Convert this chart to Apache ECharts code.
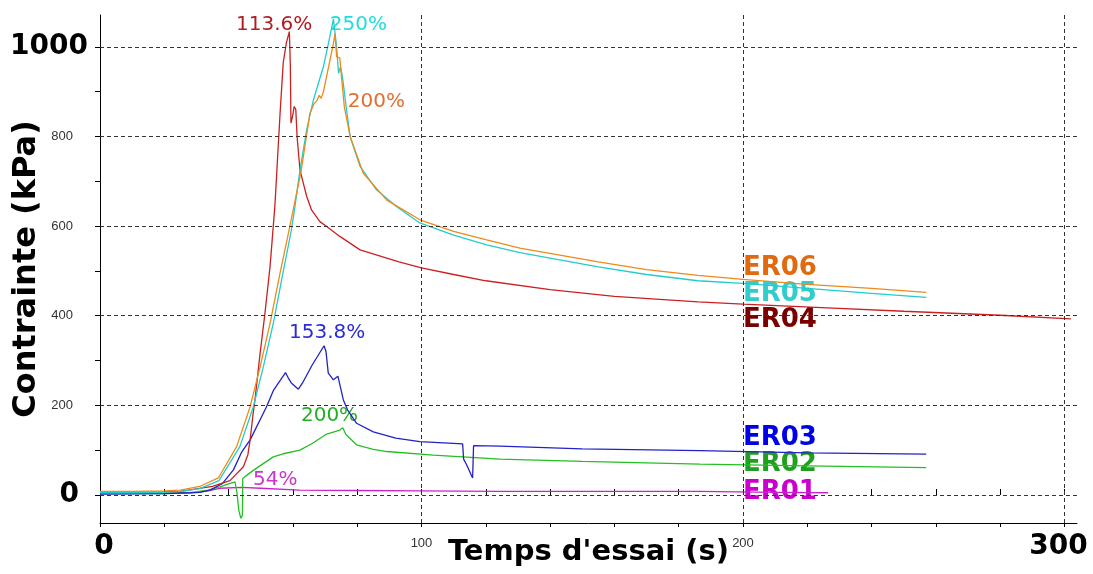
<!DOCTYPE html>
<html><head><meta charset="utf-8">
<script src="https://cdn.jsdelivr.net/npm/echarts@6/dist/echarts.min.js"></script>
<style>html,body{margin:0;padding:0;background:#fff}#c{width:1093px;height:574px}</style>
</head><body><div id="c"></div>
<script>
// ---- axes ----
const xTicks = [0,20,40,60,80,100,120,140,160,180,200,220,240,260,280,300];
const xLabels = [0,100,200,300];
const yTicks = [0,100,200,300,400,500,600,700,800,900,1000];
const yLabels = [0,200,400,600,800,1000];

// ---- series data: [time (s), stress (kPa)] ----
const er01 = [[0,4],[20,4],[30,6],[34,10],[37.3,15],[44,17],[50,15],[62,11],[80,10],[100,9],[124,8],[150,8],[186.6,8],[210,6],[226.5,5]];
const er02 = [[0,3],[20,3],[28,5],[33,10],[37.3,18],[40,25],[42,29],[42.6,5],[43.2,-35],[43.8,-52],[44.3,-45],[44.4,37],[46,46],[48.7,60],[53.9,85],[57,92],[62.2,100],[66,115],[70.5,136],[74.6,145],[75.5,150],[76.5,135],[79.8,112],[85,102],[89.2,97],[103.7,89],[124.4,80],[150,75],[186.6,69],[220,65],[257,61]];
const er03 = [[0,2],[20,3],[28,5],[31.1,6],[34.2,11],[38,25],[41.5,56],[44,95],[46.7,123],[51.8,197],[54,234],[57.7,273],[58.5,262],[59.5,250],[61.7,236],[63,250],[66,290],[69.7,333],[70.3,320],[71,272],[72.6,257],[74,265],[74.6,268],[75.7,212],[77,190],[79.8,160],[85,141],[92,127],[99.5,119],[112.8,114],[113.1,80],[114,68],[115.9,38],[116.2,110],[124.4,109],[150,103],[186.6,99],[220,94],[257,91]];
const er04 = [[0,6],[10,6],[20,7],[25,8],[35,19],[40.4,32],[44.6,63],[46,90],[46.7,123],[47.6,180],[48.2,212],[49.8,316],[51.3,405],[52.9,510],[54.4,645],[56,850],[57,965],[58,1010],[58.9,1034],[59.2,960],[59.4,830],[59.9,845],[60.4,867],[60.9,860],[61.3,800],[62.2,725],[64.3,666],[65.8,636],[68.4,610],[70.5,599],[74.6,577],[80.9,547],[93,520],[100,507],[110,492],[120,478],[140,458],[160,443],[186,431],[200,426],[228,417],[250,410],[280,401],[302,393]];
const er05 = [[0,5],[10,5],[20,6],[25,8],[31,14],[37,32],[43.5,108],[47.7,197],[50.8,286],[53.9,383],[56.9,495],[59.5,590],[60.5,636],[62.2,725],[64.3,815],[66.4,882],[69.5,956],[71.5,1023],[72.6,1062],[73.6,1000],[74.2,941],[74.8,955],[75.4,934],[76.7,859],[77.8,800],[80.9,733],[86,681],[92.3,643],[99.5,607],[110,580],[120.3,558],[130.6,541],[155,509],[170,492],[186,478],[200,472],[220,461],[240,450],[257,441]];
const er06 = [[0,8],[10,8],[20,9],[25,11],[31,19],[36.8,38],[42.5,108],[46.7,197],[49.8,286],[52.9,383],[56,495],[58.6,584],[60.7,658],[62.5,720],[65.3,852],[66.5,872],[67.5,880],[68.2,892],[68.8,885],[69.5,900],[72.6,1007],[73.1,1030],[73.6,978],[74.2,975],[74.6,975],[75.1,934],[76,866],[77.8,800],[81.9,718],[89.2,658],[99.5,614],[110,588],[120.3,569],[130.6,551],[155,520],[170,503],[186,490],[200,481],[220,470],[240,461],[257,452]];

const seriesNames = ['ER01','ER02','ER03','ER04','ER05','ER06'];
const seriesData = [er01, er02, er03, er04, er05, er06];

// ---- text annotations: [text, time, stress] ----
const peakTexts = [['54%',47.6,33],['200%',62.5,176],['153.8%',58.8,362],['113.6%',42.3,1049],['250%',71.5,1049],['200%',77.1,877]];
const tagTexts = [['ER01',200,7],['ER02',200,69],['ER03',200,127],['ER04',200,391],['ER05',200,449],['ER06',200,507]];

// ---- styles ----
const lineColors = ['#cc22cc','#22c022','#2222c8','#cc2020','#22cccc','#ee8a1a'];
const peakColors = ['#cc33cc','#22b022','#2b2bd8','#b01c22','#22dddd','#e07030'];
const tagColors = ['#cc00cc','#1f9f1f','#0000e6','#7a0000','#33cccc','#e06a10'];

const chart = echarts.init(document.getElementById('c'), null, {renderer:'canvas'});
const dash = {type:[4,3], color:'#333', width:1};

const series = [];
series.push({
  type:'line', name:'grid', data:[], silent:true, z:1,
  markLine:{silent:true, symbol:['none','none'], animation:false, label:{show:false},
    lineStyle:dash,
    data:[...yLabels.map(v=>({yAxis:v})), ...xLabels.filter(v=>v>0).map(v=>({xAxis:v}))]}
});
seriesData.forEach((d,i)=>{
  series.push({type:'line', name:seriesNames[i], data:d, showSymbol:false, symbol:'none',
    z:3, lineStyle:{color:lineColors[i], width:1.3}, itemStyle:{color:lineColors[i]}});
});
series.push({type:'scatter', name:'peaks', z:2, symbolSize:0, silent:true,
  data: peakTexts.map((a,i)=>({name:a[0], value:[a[1],a[2]], itemStyle:{color:peakColors[i], opacity:1}, label:{color:peakColors[i]}})),
  itemStyle:{opacity:1},
  label:{show:true, position:'right', distance:0, formatter:p=>p.name, fontFamily:'DejaVu Sans', fontSize:20, opacity:1}
});
series.push({type:'scatter', name:'tags', z:2, symbolSize:0, silent:true,
  data: tagTexts.map((a,i)=>({name:a[0], value:[a[1],a[2]], itemStyle:{color:tagColors[i], opacity:1}, label:{color:tagColors[i]}})),
  itemStyle:{opacity:1},
  label:{show:true, position:'right', distance:0, formatter:p=>p.name, fontFamily:'DejaVu Sans', fontWeight:'bold', fontSize:26, opacity:1}
});

const bigTxt = {fontFamily:'DejaVu Sans', fontWeight:'bold', fontSize:28, color:'#000'};
const option = {
  animation:false,
  backgroundColor:'#fff',
  grid:{left:100, top:15, width:977, height:508, containLabel:false, outerBoundsMode:'none'},
  xAxis:[{
    type:'value', min:0, max:303.9, position:'bottom',
    axisLine:{show:true, onZero:false, lineStyle:{color:'#000', width:1}},
    axisTick:{show:true, customValues:xTicks, length:4, lineStyle:{color:'#000'}},
    splitLine:{show:false},
    axisLabel:{customValues:xLabels, margin:10, color:'#000',
      formatter:v=> v===0?'{l|0}': v===300?'{r|300}':'{s|'+v+'}',
      rich:{l:Object.assign({padding:[0,0,0,8]},bigTxt), r:Object.assign({padding:[0,12,0,0]},bigTxt),
        s:{fontFamily:'Liberation Sans', fontSize:13, color:'#333', padding:[4,0,0,0]}}},
    name:"Temps d'essai (s)", nameLocation:'middle', nameGap:15, nameMoveOverlap:false,
    nameTextStyle:{fontFamily:'DejaVu Sans', fontWeight:'bold', fontSize:29, color:'#000', verticalAlign:'top'}
  },{
    type:'value', min:0, max:303.9, position:'bottom',
    axisLine:{show:false}, axisLabel:{show:false}, splitLine:{show:false},
    axisTick:{show:true, inside:true, customValues:xTicks, length:6, lineStyle:{color:'#000'}}
  }],
  yAxis:{
    type:'value', min:-62.5, max:1071,
    axisLine:{show:true, onZero:false, lineStyle:{color:'#000', width:1}},
    axisTick:{show:true, customValues:yTicks, length:5, lineStyle:{color:'#000'}},
    splitLine:{show:false},
    axisLabel:{customValues:yLabels, margin:12, color:'#000',
      formatter:v=> v===1000?'{b|1000}': v===0?'{z|0}':'{s|'+v+'}',
      rich:{b:bigTxt, z:Object.assign({padding:[0,9,0,0]},bigTxt),
        s:{fontFamily:'Liberation Sans', fontSize:13, color:'#333', padding:[0,15,0,0]}}},
    name:'Contrainte (kPa)', nameLocation:'middle', nameGap:57, nameRotate:90, nameMoveOverlap:false,
    nameTextStyle:{fontFamily:'DejaVu Sans', fontWeight:'bold', fontSize:32, color:'#000'}
  },
  series:series
};
chart.setOption(option);
</script></body></html>
